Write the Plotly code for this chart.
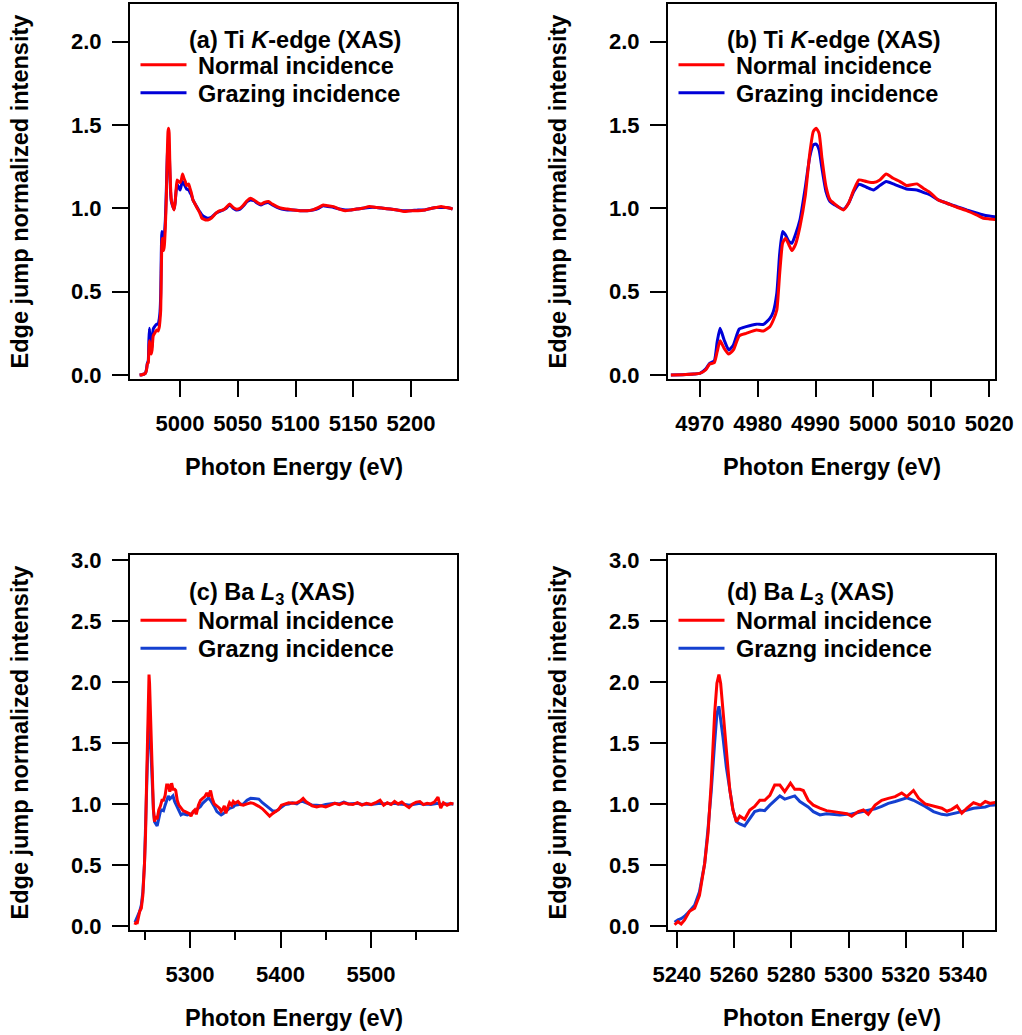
import plotly.graph_objects as go

# ---------------- Ti K-edge data (panels a, b) ----------------
ti_energy = [4965, 4967, 4969, 4970, 4971, 4971.7, 4972.5, 4973.0, 4973.5, 4974.2,
             4975.0, 4975.8, 4976.8, 4978, 4979.8, 4981, 4982.1, 4982.7, 4983.3, 4983.8,
             4984.3, 4984.8, 4985.4, 4985.9, 4986.5, 4987.3, 4988.2, 4989.0, 4989.6, 4990.1,
             4990.6, 4991.1, 4991.8, 4992.5, 4993.3, 4994.8, 4995.7, 4996.6, 4997.5, 4998.8,
             5000, 5001.1, 5002.2, 5003.4, 5004.6, 5005.7, 5007.5, 5008.6, 5009.8, 5011.2,
             5012.7, 5014.4, 5016.1, 5017.8, 5019, 5020, 5022, 5024, 5027, 5031,
             5034, 5037.5, 5040, 5043, 5046, 5048.5, 5052, 5055, 5058, 5061,
             5064, 5067, 5070, 5073, 5076.5, 5080, 5084, 5088, 5093, 5098,
             5104, 5110, 5115, 5120, 5124, 5128, 5133, 5138, 5143, 5148,
             5153, 5158, 5164, 5170, 5176, 5182, 5188, 5194, 5200, 5206,
             5212, 5218, 5222, 5226, 5230, 5234, 5236]

ti_normal = [0.0, 0.002, 0.006, 0.01, 0.03, 0.066, 0.074, 0.14, 0.205, 0.16,
             0.126, 0.15, 0.235, 0.25, 0.27, 0.264, 0.29, 0.33, 0.39, 0.61,
             0.79, 0.82, 0.78, 0.746, 0.78, 0.89, 1.07, 1.33, 1.46, 1.48,
             1.45, 1.30, 1.13, 1.05, 1.026, 0.99, 1.03, 1.11, 1.17, 1.16,
             1.154, 1.17, 1.205, 1.18, 1.16, 1.136, 1.146, 1.12, 1.094, 1.05,
             1.03, 1.006, 0.986, 0.96, 0.94, 0.936, 0.93, 0.93, 0.94, 0.97,
             0.985, 0.99, 1.005, 1.025, 1.005, 0.995, 1.0, 1.02, 1.045, 1.06,
             1.05, 1.035, 1.025, 1.035, 1.04, 1.025, 1.01, 1.0, 0.995, 0.99,
             0.985, 0.985, 0.99, 1.005, 1.02, 1.015, 1.01, 0.995, 0.985, 0.99,
             0.995, 1.0, 1.01, 1.005, 1.0, 0.995, 0.99, 0.98, 0.985, 0.985,
             0.99, 1.0, 1.005, 1.01, 1.005, 1.0, 0.995]

ti_grazing = [0.0, 0.002, 0.006, 0.01, 0.035, 0.07, 0.085, 0.2, 0.28, 0.21,
              0.15, 0.18, 0.275, 0.29, 0.305, 0.304, 0.34, 0.38, 0.49, 0.73,
              0.86, 0.84, 0.80, 0.79, 0.84, 0.93, 1.12, 1.31, 1.38, 1.385,
              1.35, 1.24, 1.10, 1.04, 1.02, 0.994, 1.03, 1.10, 1.144, 1.126,
              1.11, 1.136, 1.16, 1.146, 1.13, 1.115, 1.11, 1.095, 1.08, 1.05,
              1.03, 1.01, 0.99, 0.972, 0.96, 0.954, 0.945, 0.94, 0.945, 0.97,
              0.98, 0.99, 1.0, 1.02, 1.0, 0.99, 0.995, 1.015, 1.04, 1.05,
              1.045, 1.03, 1.02, 1.03, 1.035, 1.02, 1.005, 0.995, 0.99, 0.99,
              0.985, 0.985, 0.99, 1.0, 1.015, 1.01, 1.005, 0.995, 0.99, 0.99,
              0.995, 1.0, 1.005, 1.005, 1.0, 0.995, 0.99, 0.985, 0.985, 0.99,
              0.99, 1.0, 1.005, 1.005, 1.005, 1.0, 0.995]

# ---------------- Ba L3 data (panels c, d) ----------------
ba_energy = [5239.2, 5240.4, 5241.5, 5242.7, 5244.4, 5246.2, 5247.9, 5249.7, 5250.9, 5252.0,
             5253.2, 5254.0, 5254.7, 5255.3, 5256.1, 5257.3, 5258.5, 5259.6, 5260.8, 5262.0,
             5263.7, 5265.5, 5267.2, 5269.0, 5270.7, 5272.5, 5274.2, 5276.0, 5277.7, 5279.7,
             5281.2, 5283.0, 5284.2, 5285.9, 5287.7, 5290.0, 5292.3, 5294.7, 5297.0, 5299.4,
             5301.1, 5303.4, 5305.2, 5306.9, 5309.3, 5311.6, 5313.9, 5316.3, 5318.6, 5320.4,
             5322.7, 5324.5, 5326.8, 5329.7, 5332.6, 5334.4, 5336.1, 5337.9, 5339.6, 5341.4,
             5343.7, 5346.1, 5347.8, 5349.6, 5353, 5356, 5359, 5363, 5367, 5370,
             5373, 5376, 5380, 5384, 5388, 5391, 5395, 5398, 5401, 5405,
             5409, 5413, 5418, 5422, 5425, 5428, 5431, 5435, 5440, 5445,
             5450, 5455, 5460, 5465, 5470, 5475, 5480, 5485, 5490, 5495,
             5500, 5505, 5510, 5514, 5518, 5522, 5526, 5530, 5534, 5538,
             5542, 5546, 5550, 5554, 5558, 5562, 5566, 5570, 5574, 5577,
             5580, 5584, 5588, 5591]

ba_normal = [0.01, 0.035, 0.016, 0.05, 0.12, 0.145, 0.25, 0.51, 0.76, 1.17,
             1.74, 1.99, 2.06, 1.99, 1.77, 1.415, 1.115, 0.95, 0.855, 0.90,
             0.874, 0.95, 0.98, 1.03, 1.03, 1.07, 1.155, 1.155, 1.10, 1.17,
             1.12, 1.12, 1.11, 1.03, 0.99, 0.965, 0.945, 0.937, 0.93, 0.92,
             0.90, 0.937, 0.95, 0.915, 0.99, 1.03, 1.046, 1.06, 1.09, 1.06,
             1.11, 1.046, 1.0, 0.98, 0.965, 0.94, 0.956, 0.984, 0.924, 0.965,
             1.01, 0.99, 1.02, 1.005, 1.02, 0.995, 0.99, 1.0, 1.01, 1.005,
             0.995, 0.98, 0.96, 0.93, 0.90, 0.92, 0.94, 0.955, 0.99, 1.0,
             1.01, 1.005, 1.01, 1.025, 1.046, 1.02, 1.005, 0.985, 0.975, 0.985,
             0.975, 0.99, 1.005, 0.995, 1.01, 1.0, 0.995, 1.01, 0.99, 1.005,
             0.995, 1.01, 1.03, 0.99, 1.01, 0.995, 1.02, 1.0, 1.015, 0.99,
             0.97, 1.0, 1.015, 1.02, 0.995, 1.005, 1.0, 1.015, 1.055, 0.965,
             1.01, 0.99, 1.005, 1.0]

ba_grazing = [0.03, 0.05, 0.06, 0.08, 0.12, 0.17, 0.28, 0.51, 0.80, 1.10,
              1.50, 1.74, 1.80, 1.70, 1.55, 1.30, 1.10, 0.95, 0.855, 0.836,
              0.82, 0.88, 0.937, 0.95, 0.945, 0.99, 1.03, 1.066, 1.04, 1.055,
              1.066, 1.02, 1.0, 0.975, 0.937, 0.91, 0.92, 0.915, 0.91, 0.915,
              0.918, 0.93, 0.94, 0.95, 0.96, 0.98, 1.005, 1.02, 1.035, 1.05,
              1.03, 1.01, 0.98, 0.937, 0.915, 0.91, 0.918, 0.925, 0.937, 0.95,
              0.965, 0.97, 0.975, 0.99, 0.995, 1.0, 1.0, 1.03, 1.046, 1.045,
              1.04, 1.04, 1.01, 0.985, 0.96, 0.945, 0.94, 0.955, 0.975, 0.995,
              1.0, 1.01, 1.0, 1.02, 1.02, 1.01, 1.0, 0.99, 0.99, 0.985,
              0.995, 1.0, 1.005, 1.0, 1.015, 1.0, 1.0, 1.005, 0.995, 1.0,
              0.995, 1.0, 1.005, 1.0, 1.005, 1.0, 1.005, 1.0, 1.0, 0.995,
              0.99, 0.995, 1.0, 1.005, 0.995, 1.0, 0.995, 1.0, 1.005, 0.995,
              1.0, 1.0, 1.0, 1.0]

panel_titles = ["<b>(a) Ti <i>K</i>-edge (XAS)</b>",
                "<b>(b) Ti <i>K</i>-edge (XAS)</b>",
                "<b>(c) Ba <i>L</i><sub>3</sub> (XAS)</b>",
                "<b>(d) Ba <i>L</i><sub>3</sub> (XAS)</b>"]
normal_name = "Normal incidence"
grazing_names = ["Grazing incidence", "Grazing incidence", "Grazng incidence", "Grazng incidence"]
x_title = "Photon Energy (eV)"
y_title = "Edge jump normalized intensity"

x_ranges = [[4956.7, 5239.8], [4964.5, 5021.0], [5233.7, 5595.0], [5236.9, 5351.2]]
x_ticks = [[5000, 5050, 5100, 5150, 5200], [4970, 4980, 4990, 5000, 5010, 5020],
           [5300, 5400, 5500], [5240, 5260, 5280, 5300, 5320, 5340]]
x_minor_ticks = [None, None, [5250, 5350, 5450, 5550], None]
y_ranges = [[-0.024, 2.225], [-0.024, 2.225], [-0.033, 3.04], [-0.033, 3.04]]
y_ticks = [[0, 0.5, 1.0, 1.5, 2.0], [0, 0.5, 1.0, 1.5, 2.0],
           [0, 0.5, 1.0, 1.5, 2.0, 2.5, 3.0], [0, 0.5, 1.0, 1.5, 2.0, 2.5, 3.0]]

W, H = 1022, 1035
FONT = "Liberation Sans, Arial, sans-serif"
TXT = 23.5
TICK = 22
RED = "#FF0000"
BLUE_TOP = "#0000D8"
BLUE_BOT = "#1440D0"

# frames in pixels: (left, right, top, bottom)
frames = [(130, 457, 4, 379), (668, 995, 4, 379), (130, 457, 555, 930), (668, 995, 555, 930)]
# vertical offsets (from frame top) of title and legend rows
title_off = [36, 36, 38, 38]
row_offs = [(59, 87), (59, 87), (63.5, 91.5), (63.5, 91.5)]

datasets = [(ti_energy, ti_normal, ti_grazing, BLUE_TOP, "spline"),
            (ti_energy, ti_normal, ti_grazing, BLUE_TOP, "spline"),
            (ba_energy, ba_normal, ba_grazing, BLUE_BOT, "linear"),
            (ba_energy, ba_normal, ba_grazing, BLUE_BOT, "linear")]

fig = go.Figure()

def leg_id(n):
    return "legend" if n == 1 else "legend" + str(n)

for i, (ex, yn, yg, bcol, shape) in enumerate(datasets):
    sfx = "" if i == 0 else str(i + 1)
    fig.add_trace(go.Scatter(x=ex, y=yg, mode="lines", name="&nbsp;" + grazing_names[i],
                             line=dict(color=bcol, width=3, shape=shape, smoothing=0.5),
                             xaxis="x" + sfx, yaxis="y" + sfx, legend=leg_id(2 * i + 2)))
    fig.add_trace(go.Scatter(x=ex, y=yn, mode="lines", name="&nbsp;" + normal_name,
                             line=dict(color=RED, width=3, shape=shape, smoothing=0.5),
                             xaxis="x" + sfx, yaxis="y" + sfx, legend=leg_id(2 * i + 1)))

tickfont = dict(family=FONT, size=TICK, color="black", weight="bold")
legfont = dict(family=FONT, size=TXT, color="black", weight="bold")

layout = dict(width=W, height=H, margin=dict(l=0, r=0, t=0, b=0, pad=0, autoexpand=False),
              paper_bgcolor="white", plot_bgcolor="white", showlegend=True)

annotations = []
for i, (l, r, t, b) in enumerate(frames):
    sfx = "" if i == 0 else str(i + 1)
    xa = dict(domain=[l / W, r / W], range=x_ranges[i], anchor="y" + sfx, showline=True,
              mirror=True, linecolor="black", linewidth=2, ticks="outside", ticklen=16,
              tickwidth=2, tickcolor="black", tickvals=x_ticks[i], tickfont=tickfont,
              showgrid=False, zeroline=False, ticklabelstandoff=8, automargin=False)
    if x_minor_ticks[i] is not None:
        xa["minor"] = dict(tickvals=x_minor_ticks[i], ticks="outside", ticklen=8,
                           tickwidth=2, tickcolor="black", showgrid=False)
    ya = dict(domain=[1 - b / H, 1 - t / H], range=y_ranges[i], anchor="x" + sfx,
              showline=True, mirror=True, linecolor="black", linewidth=2, ticks="outside",
              ticklen=16, tickwidth=2, tickcolor="black", tickvals=y_ticks[i],
              tickformat=".1f", tickfont=tickfont, showgrid=False, zeroline=False,
              ticklabelstandoff=6, automargin=False)
    layout["xaxis" + sfx] = xa
    layout["yaxis" + sfx] = ya
    # one legend per entry so rows can sit at the reference spacing
    for k, off in enumerate(row_offs[i]):
        layout[leg_id(2 * i + 1 + k)] = dict(x=(l + 5.5) / W, xanchor="left",
                                            y=1 - (t + off - 20) / H, yanchor="top",
                                            bgcolor="rgba(0,0,0,0)", borderwidth=0,
                                            itemwidth=46, font=legfont)
    # panel title
    annotations.append(dict(text=panel_titles[i], x=(l + 57) / W, xanchor="left",
                            y=1 - (t + title_off[i]) / H, yanchor="middle", xref="paper",
                            yref="paper", showarrow=False,
                            font=dict(family=FONT, size=TXT, color="black")))
    # x axis title
    annotations.append(dict(text="<b>" + x_title + "</b>", x=(l + r) / 2 / W, xanchor="center",
                            y=1 - (b + 88) / H, yanchor="middle", xref="paper", yref="paper",
                            showarrow=False, font=dict(family=FONT, size=TXT, color="black")))
    # y axis title
    annotations.append(dict(text="<b>" + y_title + "</b>", x=(l - 111) / W, xanchor="center",
                            y=1 - (t + b) / 2 / H, yanchor="middle", xref="paper", yref="paper",
                            textangle=-90, showarrow=False,
                            font=dict(family=FONT, size=TXT, color="black")))

layout["annotations"] = annotations
fig.update_layout(**layout)
fig.write_html("out.html")
